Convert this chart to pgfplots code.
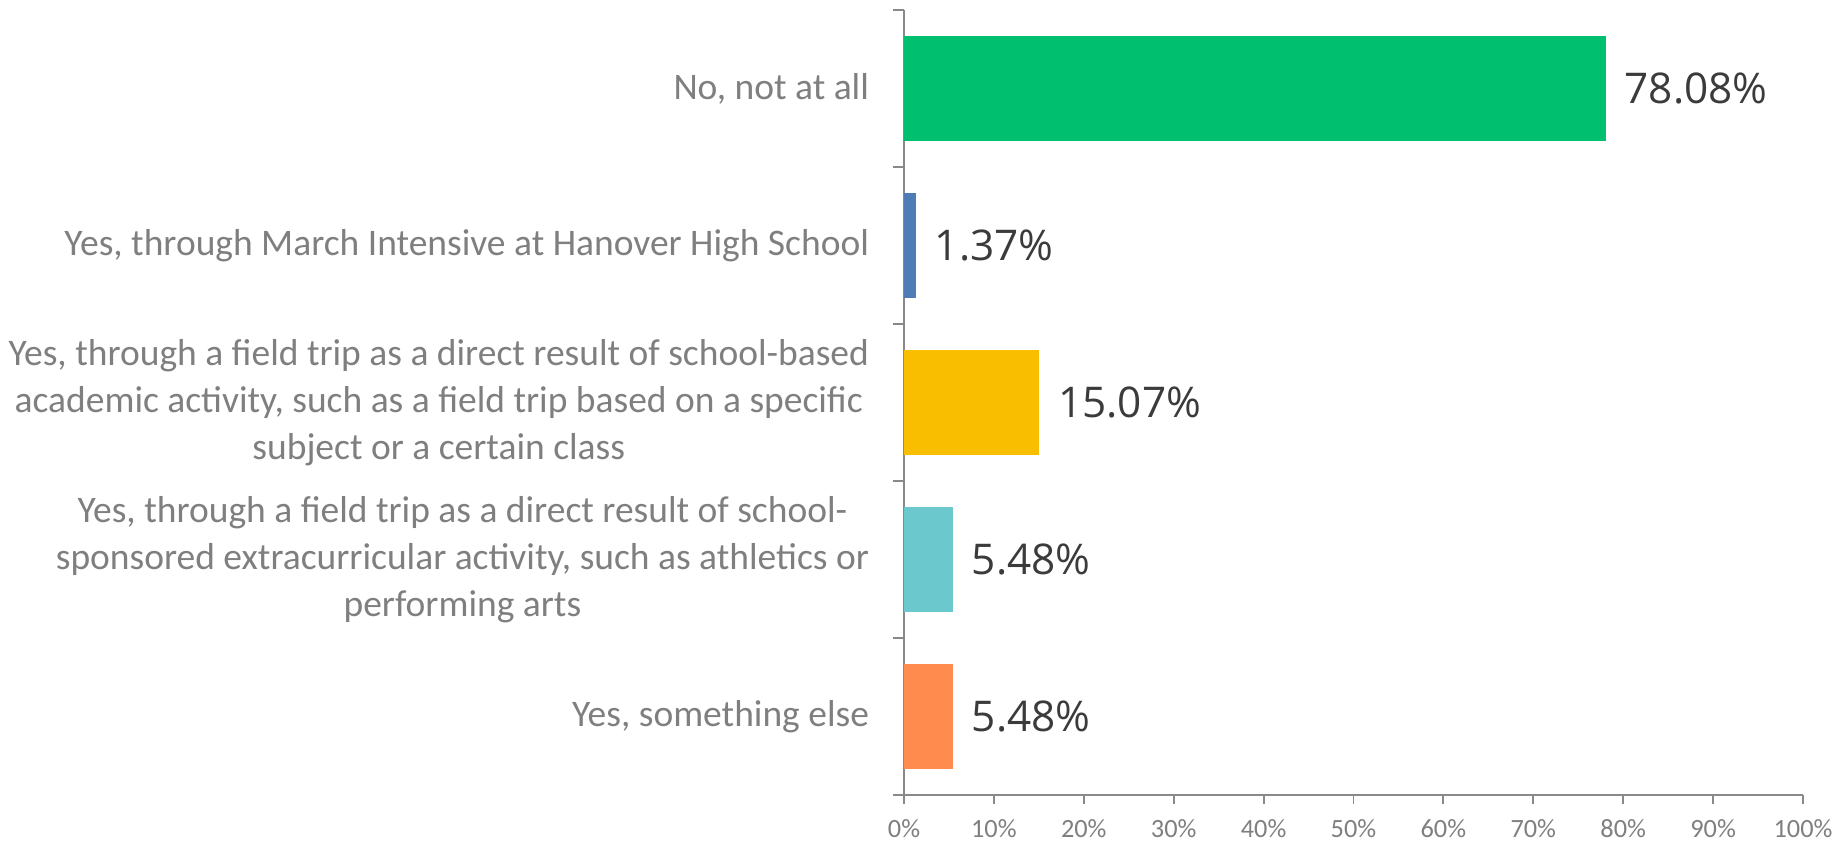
\documentclass[border=0pt]{standalone}
\usepackage{pgfplots}
\pgfplotsset{compat=1.18}
\usepackage{fontspec}
\setmainfont{Carlito}
\newfontfamily\labelfont{Open Sans}

\definecolor{smgreen}{HTML}{00BF6F}
\definecolor{smblue}{HTML}{507CB6}
\definecolor{smyellow}{HTML}{F9BE00}
\definecolor{smteal}{HTML}{6BC8CD}
\definecolor{smorange}{HTML}{FF8B4F}
\definecolor{axisgray}{HTML}{898989}
\definecolor{textgray}{HTML}{7F7F7F}
\definecolor{valgray}{HTML}{3B3B3B}

\begin{document}
\begin{tikzpicture}
\begin{axis}[
  scale only axis,
  width=269.7pt, height=235.5pt,
  xbar, bar width=31.5pt, bar shift=0pt,
  xmin=0, xmax=100, ymin=-0.5, ymax=4.5, y dir=reverse,
  axis lines*=left,
  axis line style={draw=axisgray, line width=0.55pt},
  every tick/.style={draw=axisgray, line width=0.55pt},
  tick align=outside,
  major tick length=2.7pt,
  minor tick length=3.4pt,
  /pgf/number format/assume math mode=true,
  xtick={0,10,...,100},
  xticklabel={\pgfmathprintnumber{\tick}\%},
  xticklabel style={font=\fontsize{7.9}{9}\selectfont, text=textgray, anchor=base, inner sep=0pt, yshift=-10pt},
  ytick={0,...,4},
  yticklabels={
    {No, not at all},
    {Yes, through March Intensive at Hanover High School},
    {Yes, through a field trip as a direct result of school-based\\academic activity, such as a field trip based on a specific\\subject or a certain class},
    {Yes, through a field trip as a direct result of school-\\sponsored extracurricular activity, such as athletics or\\performing arts},
    {Yes, something else}},
  yticklabel style={font=\fontsize{11.25}{14.1}\selectfont, text=textgray, align=center, anchor=east, inner sep=0pt, xshift=-7.6pt},
  major y tick style={draw=none},
  minor ytick={-0.5,0.5,...,4.5},
  point meta=x,
  nodes near coords={\pgfmathprintnumber[fixed,fixed zerofill,precision=2]{\pgfplotspointmeta}\%},
  nodes near coords style={font=\fontsize{12.7}{15}\labelfont, text=valgray, anchor=west, inner sep=0pt, xshift=5.4pt},
]
\addplot[fill=smgreen, draw=none] coordinates {(78.08,0)};
\addplot[fill=smblue, draw=none] coordinates {(1.37,1)};
\addplot[fill=smyellow, draw=none] coordinates {(15.07,2)};
\addplot[fill=smteal, draw=none] coordinates {(5.48,3)};
\addplot[fill=smorange, draw=none] coordinates {(5.48,4)};
\coordinate (o) at (axis cs:0,4.5);
\end{axis}
\pgfresetboundingbox
\path (o) ++(-271.2pt,-14.1pt) rectangle ++(551.1pt,252.6pt);
\end{tikzpicture}
\end{document}
